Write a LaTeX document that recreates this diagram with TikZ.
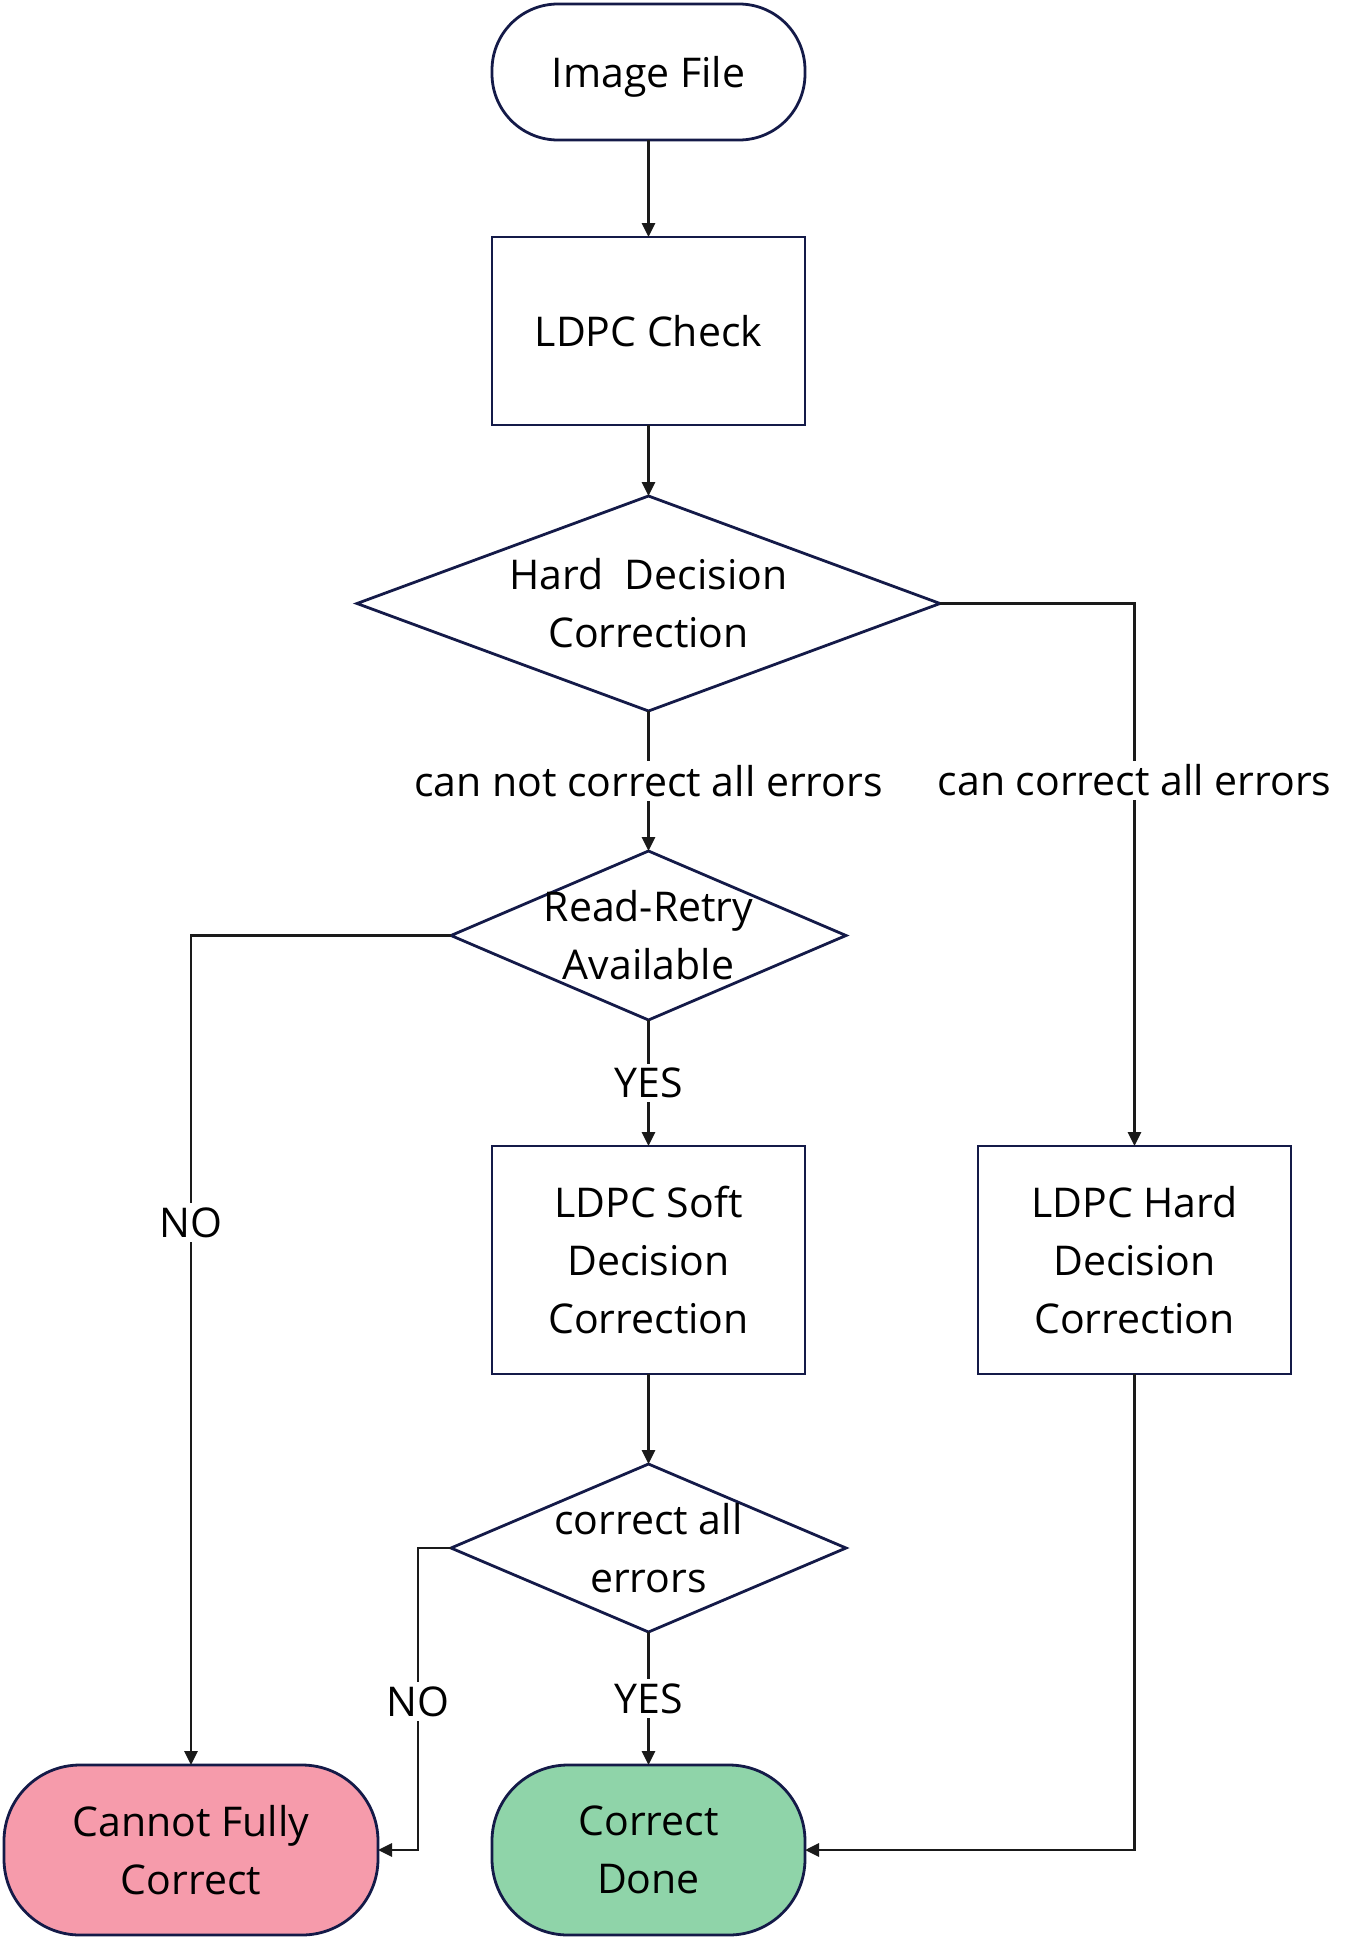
\documentclass[tikz,border=0pt]{standalone}
\usepackage{fontspec}
\setmainfont{Open Sans}
\usetikzlibrary{positioning,arrows.meta,shapes.geometric}
\definecolor{edgenavy}{HTML}{141A48}
\definecolor{linegray}{HTML}{1A1A1A}
\definecolor{failpink}{HTML}{F69BAB}
\definecolor{donegreen}{HTML}{8FD4A9}

\begin{document}
\begin{tikzpicture}[
  x=0.5pt, y=-0.5pt,
  font=\fontsize{20.5}{29}\selectfont,
  box/.style={draw=edgenavy, line width=1.4pt, align=center, inner sep=0pt, outer sep=0pt, minimum width=156.5pt},
  term/.style={box, rounded corners=33pt},
  dec/.style={diamond, draw=edgenavy, line width=1.4pt, inner sep=0pt, outer sep=0pt},
  arr/.style={-{Triangle[length=7pt,width=6.5pt]}, draw=linegray, line width=1.4pt},
  lab/.style={fill=white, inner sep=2pt}]
\useasboundingbox (0,0) rectangle (1350,1938);
% ---- main column ----
\node[term, minimum height=68pt, text depth=0pt] (img) at (648.5,72) {Image File};
\node[box, below=48.5pt of img, minimum height=94pt] (chk) {LDPC Check};
\node[dec, below=35.5pt of chk, minimum width=291.5pt, minimum height=107.5pt,
  label={[align=center]center:Hard\ \ Decision\\Correction}] (hdc) {};
\node[dec, below=70pt of hdc, minimum width=197.5pt, minimum height=84.5pt,
  label={[align=center]center:Read-Retry\\Available}] (rr) {};
\node[box, below=63pt of rr, minimum height=114pt] (soft) {LDPC Soft\\Decision\\Correction};
\node[dec, below=45pt of soft, minimum width=197.5pt, minimum height=84pt,
  label={[align=center]center:correct all\\errors}] (cae) {};
\node[term, below=66.5pt of cae, minimum height=85pt, rounded corners=38pt, fill=donegreen] (done) {Correct\\Done};
% ---- side branches ----
\node[box, right=86.5pt of soft, minimum height=114pt] (hard) {LDPC Hard\\Decision\\Correction};
\node[term, left=57pt of done, minimum width=187pt, minimum height=85pt, rounded corners=38pt, fill=failpink] (cnf) {Cannot Fully\\Correct};
% ---- connectors ----
\draw[arr] (img) -- (chk);
\draw[arr] (chk) -- (hdc);
\draw[arr] (hdc.south) -- node[lab] {can not correct all errors} (rr.north);
\draw[arr] (hdc.east) -| node[lab, pos=0.663] {can correct all errors} (hard.north);
\draw[arr] (rr.south) -- node[lab] {YES} (soft.north);
\draw[arr] (rr.west) -| node[lab, pos=0.673] {NO} (cnf.north);
\draw[arr] (soft) -- (cae);
\draw[arr] (cae.south) -- node[lab] {YES} (done.north);
\draw[arr] (cae.west) -- ++(-33,0) |- node[lab, pos=0.254] {NO} (cnf.east);
\draw[arr] (hard.south) |- (done.east);
\end{tikzpicture}
\end{document}
